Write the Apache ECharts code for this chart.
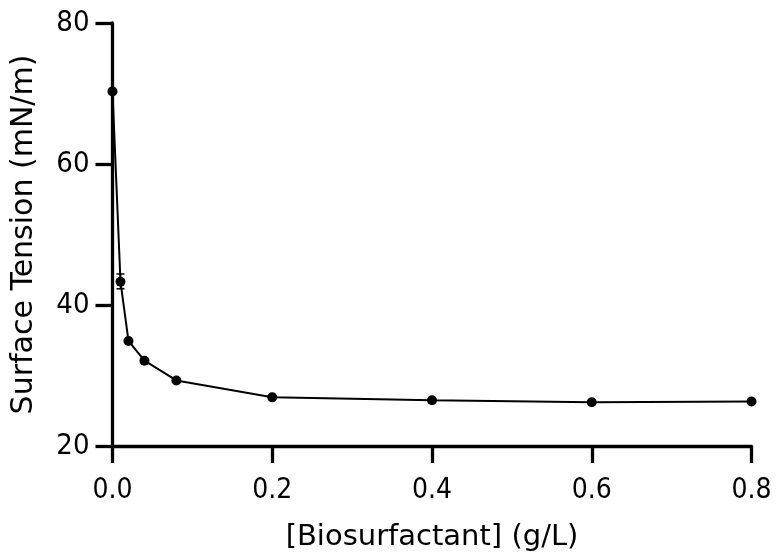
<!DOCTYPE html>
<html>
<head>
<meta charset="utf-8">
<script src="https://cdn.jsdelivr.net/npm/echarts@6/dist/echarts.min.js"></script>
<style>
html,body{margin:0;padding:0;background:#fff;}
#chart{width:776px;height:557px;}
</style>
</head>
<body>
<div id="chart"></div>
<script>
const concentrations = [0, 0.01, 0.02, 0.04, 0.08, 0.2, 0.4, 0.6, 0.8];
const surfaceTension = [70.3, 43.3, 34.9, 32.1, 29.3, 26.9, 26.5, 26.2, 26.3];
const errorLow = [70.3, 42.3, 34.9, 32.1, 29.3, 26.9, 26.5, 26.2, 26.3];
const errorHigh = [70.3, 44.4, 34.9, 32.1, 29.3, 26.9, 26.5, 26.2, 26.3];
const xTicks = [0, 0.2, 0.4, 0.6, 0.8];
const yTicks = [20, 40, 60, 80];
const xTitle = '[Biosurfactant] (g/L)';
const yTitle = 'Surface Tension (mN/m)';

const TICK_FONT = '"DejaVu Sans Condensed", "DejaVu Sans", sans-serif';
const TITLE_FONT = '"DejaVu Sans", sans-serif';
const chart = echarts.init(document.getElementById('chart'), null, {renderer: 'canvas'});

const lineData = concentrations.map((x, i) => [x, surfaceTension[i]]);
const errData = concentrations.map((x, i) => [x, errorLow[i], errorHigh[i]]);

chart.setOption({
  animation: false,
  backgroundColor: '#ffffff',
  grid: {left: 112.5, right: 24.5, top: 23, bottom: 107, containLabel: false},
  xAxis: {
    type: 'value',
    min: xTicks[0], max: xTicks[xTicks.length - 1], interval: 0.2,
    name: xTitle, nameLocation: 'middle', nameGap: 77,
    nameTextStyle: {fontFamily: TITLE_FONT, fontSize: 29, color: '#000'},
    axisLine: {show: true, lineStyle: {color: '#000', width: 3.3}},
    axisTick: {show: true, inside: false, length: 17, lineStyle: {color: '#000', width: 3.3}},
    axisLabel: {margin: 31, fontFamily: TICK_FONT, fontSize: 28, color: '#000',
      formatter: v => v.toFixed(1)},
    splitLine: {show: false}
  },
  yAxis: {
    type: 'value',
    min: yTicks[0], max: yTicks[yTicks.length - 1], interval: 20,
    name: yTitle, nameLocation: 'middle', nameGap: 73, nameRotate: 90,
    nameTextStyle: {fontFamily: TITLE_FONT, fontSize: 30, color: '#000'},
    axisLine: {show: true, lineStyle: {color: '#000', width: 3.3}},
    axisTick: {show: true, inside: false, length: 17, lineStyle: {color: '#000', width: 3.3}},
    axisLabel: {margin: 23, fontFamily: TICK_FONT, fontSize: 29, color: '#000'},
    splitLine: {show: false}
  },
  series: [
    {
      type: 'custom',
      z: 3,
      data: errData,
      renderItem: function (params, api) {
        const x = api.value(0);
        const lo = api.coord([x, api.value(1)]);
        const hi = api.coord([x, api.value(2)]);
        if (Math.abs(lo[1] - hi[1]) < 1) return null;
        const w = 4;
        const style = {stroke: '#000', lineWidth: 1.5};
        return {
          type: 'group',
          children: [
            {type: 'line', shape: {x1: lo[0], y1: lo[1], x2: hi[0], y2: hi[1]}, style},
            {type: 'line', shape: {x1: lo[0] - w, y1: lo[1], x2: lo[0] + w, y2: lo[1]}, style},
            {type: 'line', shape: {x1: hi[0] - w, y1: hi[1], x2: hi[0] + w, y2: hi[1]}, style}
          ]
        };
      }
    },
    {
      type: 'line',
      z: 4,
      data: lineData,
      symbol: 'circle',
      symbolSize: 10,
      itemStyle: {color: '#000'},
      lineStyle: {color: '#000', width: 2},
      clip: false
    }
  ]
});
</script>
</body>
</html>
